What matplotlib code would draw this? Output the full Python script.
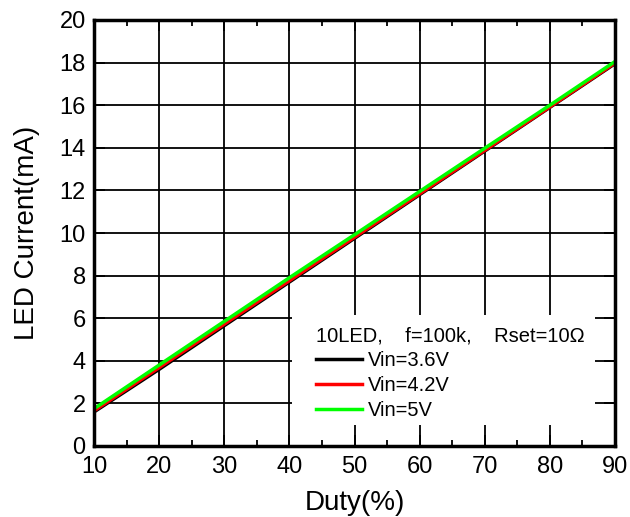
import matplotlib
matplotlib.use("Agg")
import matplotlib.pyplot as plt
from matplotlib.ticker import MultipleLocator
from matplotlib.patches import Rectangle

plt.rcParams['font.family'] = ['Liberation Sans', 'DejaVu Sans']

duty = [10, 20, 30, 40, 50, 60, 70, 80, 90]
i_36 = [1.60, 3.60, 5.65, 7.70, 9.75, 11.80, 13.85, 15.90, 17.95]
i_42 = [1.65, 3.68, 5.72, 7.76, 9.80, 11.84, 13.88, 15.92, 17.98]
i_50 = [1.75, 3.80, 5.85, 7.90, 9.92, 11.95, 13.98, 16.00, 18.05]
labels = ["Vin=3.6V", "Vin=4.2V", "Vin=5V"]
colors = ["#000000", "#ff0000", "#00ff00"]

W, H = 630, 517
L, R, T, B = 94, 615, 20, 446
fig = plt.figure(figsize=(6.3, 5.17), dpi=100)
ax = fig.add_axes([L/W, 1 - B/H, (R-L)/W, (B-T)/H])

def axfrac(px, py):
    return (px - L) / (R - L), (B - py) / (B - T)

for y, lab, c in zip([i_36, i_42, i_50], labels, colors):
    ax.plot(duty, y, color=c, lw=2.5, label=lab)

ax.set_xlim(10, 90)
ax.set_ylim(0, 20)
ax.xaxis.set_major_locator(MultipleLocator(10))
ax.xaxis.set_minor_locator(MultipleLocator(5))
ax.yaxis.set_major_locator(MultipleLocator(2))
ax.grid(True, which='major', color='black', lw=1.3)
ax.tick_params(which='both', direction='in', top=True, right=True, labelsize=17, width=1.3)
ax.tick_params(axis='x', which='major', length=8, pad=7)
ax.tick_params(axis='y', which='major', length=8, pad=6)
ax.tick_params(which='minor', length=4)
for s in ax.spines.values():
    s.set_linewidth(2.5)
    s.set_zorder(4)

ax.set_xlabel("Duty(%)", fontsize=20, labelpad=9)
ax.set_ylabel("LED Current(mA)", fontsize=20, labelpad=14)

# white box behind legend
x0, y0 = axfrac(292, 425)
x1, y1 = axfrac(595, 315)
ax.add_patch(Rectangle((x0, y0), x1 - x0, y1 - y0, transform=ax.transAxes,
                       facecolor='white', edgecolor='none', zorder=2.6))

lx, ly = axfrac(316, 326)
leg = ax.legend(loc='upper left', bbox_to_anchor=(lx, ly), frameon=False,
                title="10LED,    f=100k,    Rset=10\u03a9", title_fontsize=14.5, fontsize=14.5,
                handlelength=2.3, handletextpad=0.3, labelspacing=0.3, borderpad=0,
                borderaxespad=0, alignment='left')
leg.set_zorder(5)

fig.savefig("out.png", dpi=100)
